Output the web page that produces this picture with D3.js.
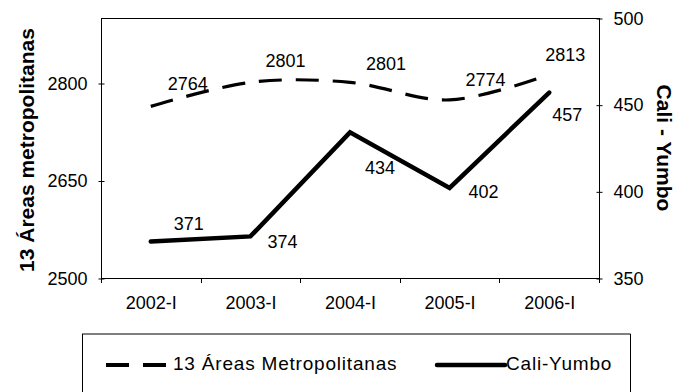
<!DOCTYPE html>
<html>
<head>
<meta charset="utf-8">
<script src="https://cdn.jsdelivr.net/npm/d3@7"></script>
<style>
  body { margin: 0; background: #fff; }
  text { font-family: "Liberation Sans", Arial, sans-serif; fill: #000; }
</style>
</head>
<body>
<svg id="chart" width="675" height="392"></svg>
<script>
// Series data
const periods = ["2002-I", "2003-I", "2004-I", "2005-I", "2006-I"];
const metroValues = [2764, 2801, 2801, 2774, 2813];
const caliValues = [371, 374, 434, 402, 457];
const leftTicks = [2500, 2650, 2800];
const rightTicks = [350, 400, 450, 500];
const seriesNames = ["13 Áreas Metropolitanas", "Cali-Yumbo"];
const leftTitle = "13 Áreas metropolitanas";
const rightTitle = "Cali - Yumbo";

// Value-label nudges (px) relative to each point
const metroLabelNudge = [[37, -23], [35, -22], [36, -19], [36, -20], [16, -20]];
const caliLabelNudge = [[38, -18], [32, 5], [30, 35], [34, 4], [18, 22]];

const svg = d3.select("#chart");
const plot = { left: 101, right: 599, top: 18, bottom: 278 };
const labelSize = 18;

const x = d3.scaleBand().domain(periods).range([plot.left, plot.right]);
const cx = p => x(p) + x.bandwidth() / 2;
const yL = d3.scaleLinear().domain([2500, 2900]).range([plot.bottom, plot.top]);
const yR = d3.scaleLinear().domain([350, 500]).range([plot.bottom, plot.top]);

// Plot frame
svg.append("rect")
  .attr("x", plot.left + 0.5).attr("y", plot.top + 0.5)
  .attr("width", plot.right - plot.left).attr("height", plot.bottom - plot.top)
  .attr("fill", "none").attr("stroke", "#000").attr("stroke-width", 1);

// Left axis
const gL = svg.append("g").attr("transform", `translate(${plot.left + 0.5},0.5)`)
  .call(d3.axisLeft(yL).tickValues(leftTicks).tickSize(3).tickPadding(11).tickFormat(d3.format("d")));
gL.select(".domain").remove();
gL.selectAll(".tick line").attr("x1", 3).attr("x2", -3);
gL.selectAll(".tick text").style("font-size", labelSize + "px");

// Right axis
const gR = svg.append("g").attr("transform", `translate(${plot.right + 0.5},0.5)`)
  .call(d3.axisRight(yR).tickValues(rightTicks).tickSize(3).tickPadding(11).tickFormat(d3.format("d")));
gR.select(".domain").remove();
gR.selectAll(".tick line").attr("x1", -3).attr("x2", 3);
gR.selectAll(".tick text").style("font-size", labelSize + "px");

// Bottom axis: labels at band centres, tick marks at band boundaries
const gB = svg.append("g").attr("transform", `translate(0.5,${plot.bottom + 0.5})`)
  .call(d3.axisBottom(x).tickSize(0).tickPadding(18));
gB.select(".domain").remove();
gB.selectAll(".tick text").style("font-size", labelSize + "px");
const boundaries = periods.map(p => x(p)).concat([x.range()[1]]);
svg.append("g").selectAll("line").data(boundaries).join("line")
  .attr("x1", d => Math.round(d) + 0.5).attr("x2", d => Math.round(d) + 0.5)
  .attr("y1", plot.bottom).attr("y2", plot.bottom + 5)
  .attr("stroke", "#000");

// Axis titles
svg.append("text")
  .attr("transform", `translate(33.5,150) rotate(-90)`)
  .attr("text-anchor", "middle")
  .style("font-size", "21px").style("font-weight", "bold")
  .text(leftTitle);
svg.append("text")
  .attr("transform", `translate(657,148) rotate(90)`)
  .attr("text-anchor", "middle")
  .style("font-size", "21px").style("font-weight", "bold")
  .text(rightTitle);

// Lines
const metroLine = d3.line()
  .x((d, i) => cx(periods[i])).y(d => yL(d))
  .curve(d3.curveCatmullRom.alpha(0));
const caliLine = d3.line()
  .x((d, i) => cx(periods[i])).y(d => yR(d));

svg.append("path").datum(metroValues)
  .attr("d", metroLine)
  .attr("fill", "none").attr("stroke", "#000")
  .attr("stroke-width", 3.2).attr("stroke-dasharray", "23,14");

svg.append("path").datum(caliValues)
  .attr("d", caliLine)
  .attr("fill", "none").attr("stroke", "#000")
  .attr("stroke-width", 4.5).attr("stroke-linejoin", "miter").attr("stroke-linecap", "round");

// Value labels
const baselineShift = 0.358 * labelSize;
svg.append("g").selectAll("text").data(metroValues).join("text")
  .attr("x", (d, i) => cx(periods[i]) + metroLabelNudge[i][0])
  .attr("y", (d, i) => yL(d) + metroLabelNudge[i][1] + baselineShift)
  .attr("text-anchor", "middle")
  .style("font-size", labelSize + "px")
  .text(d => d);
svg.append("g").selectAll("text").data(caliValues).join("text")
  .attr("x", (d, i) => cx(periods[i]) + caliLabelNudge[i][0])
  .attr("y", (d, i) => yR(d) + caliLabelNudge[i][1] + baselineShift)
  .attr("text-anchor", "middle")
  .style("font-size", labelSize + "px")
  .text(d => d);

// Legend
const lg = svg.append("g");
lg.append("line").attr("x1", 82).attr("x2", 630.5).attr("y1", 334).attr("y2", 334)
  .attr("stroke", "#000").attr("stroke-width", 1);
lg.append("line").attr("x1", 82.5).attr("x2", 82.5).attr("y1", 334).attr("y2", 400)
  .attr("stroke", "#000").attr("stroke-width", 1);
lg.append("line").attr("x1", 630.5).attr("x2", 630.5).attr("y1", 334).attr("y2", 400)
  .attr("stroke", "#000").attr("stroke-width", 1);

const legendY = 365;
lg.append("line").attr("x1", 106).attr("x2", 167).attr("y1", legendY).attr("y2", legendY)
  .attr("stroke", "#000").attr("stroke-width", 4).attr("stroke-dasharray", "23,14");
lg.append("text").attr("x", 173).attr("y", 370)
  .style("font-size", "19px").style("letter-spacing", "0.8px")
  .text(seriesNames[0]);
lg.append("line").attr("x1", 437).attr("x2", 505).attr("y1", legendY).attr("y2", legendY)
  .attr("stroke", "#000").attr("stroke-width", 4.5).attr("stroke-linecap", "round");
lg.append("text").attr("x", 506).attr("y", 370)
  .style("font-size", "19px").style("letter-spacing", "0.8px")
  .text(seriesNames[1]);
</script>
</body>
</html>
